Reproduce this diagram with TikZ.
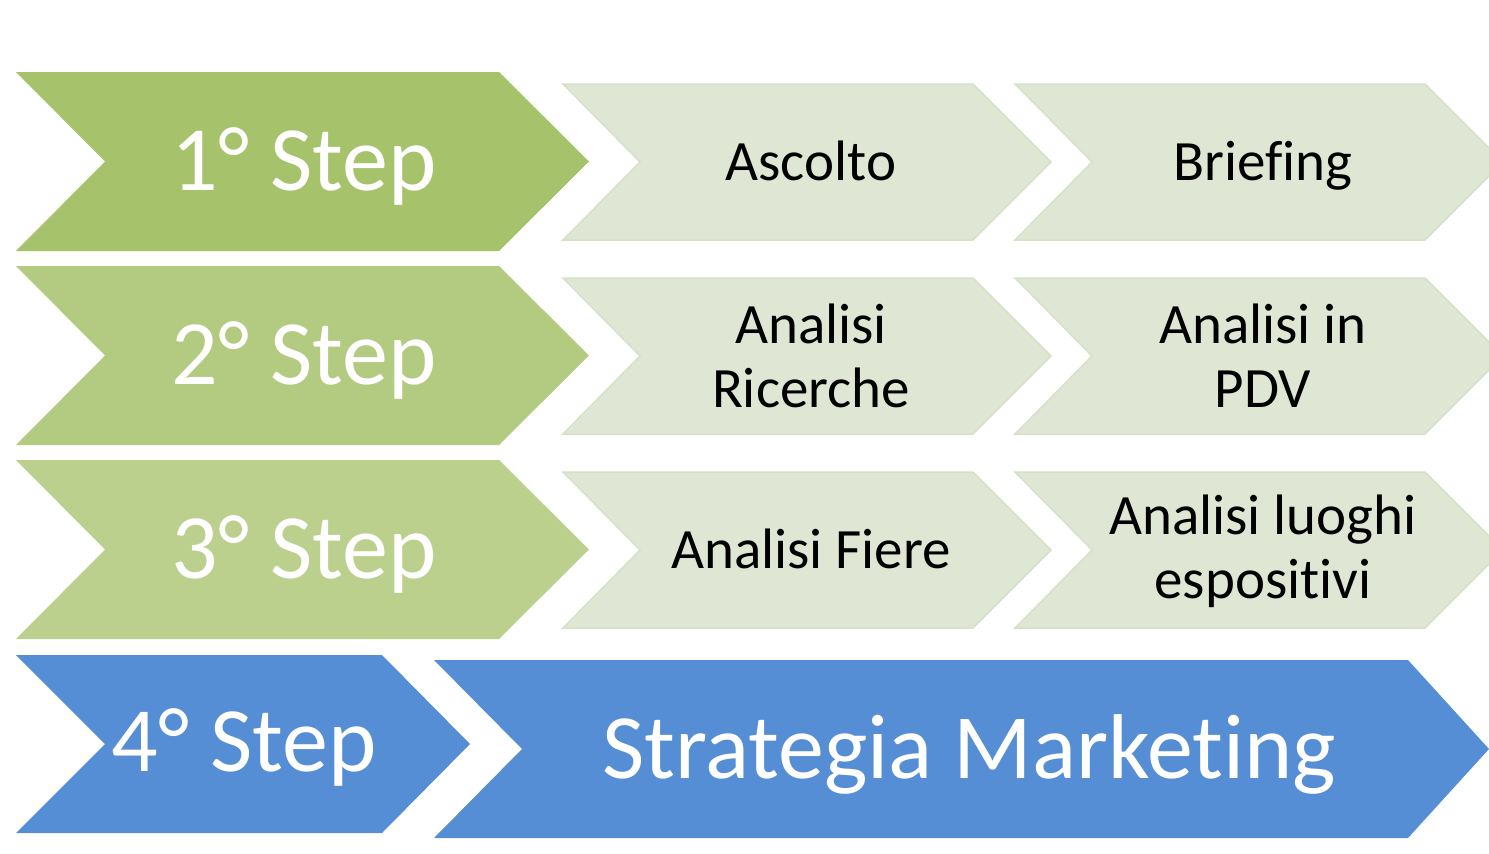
\documentclass[tikz,border=0pt]{standalone}
\usepackage{fontspec}
\setmainfont{Carlito}[Ligatures=NoCommon,RawFeature={-liga;-clig;-dlig}]
\newcommand\nolig{\kern0pt{}}
\definecolor{gA}{HTML}{A6C36C}
\definecolor{gB}{HTML}{B3CB80}
\definecolor{gC}{HTML}{BCD08E}
\definecolor{lite}{HTML}{DFE7D4}
\definecolor{liteedge}{HTML}{D6E1C8}
\definecolor{blu}{HTML}{558ED5}
% #1 left x, #2 top, #3 bottom, #4 corner x, #5 notch depth, #6 tip depth
\newcommand\chevron[6]{%
  (#1,#2) -- (#4,#2) -- ({#4+#6},{(#2+#3)/2}) -- (#4,#3) -- (#1,#3) -- ({#1+#5},{(#2+#3)/2}) -- cycle}
\tikzset{
  bigtxt/.style={text=white,font=\fontsize{92}{92}\selectfont,inner sep=0pt,anchor=base},
  smalltxt/.style={text=black,font=\fontsize{57}{64}\selectfont,inner sep=0pt,align=center,anchor=base},
  hugetxt/.style={text=white,font=\fontsize{92}{92}\selectfont,inner sep=0pt,anchor=base},
  liteshape/.style={fill=lite,draw=liteedge,line width=1.5pt},
}
\begin{document}
\begin{tikzpicture}[x=1pt,y=-1pt]
\useasboundingbox (0,0) rectangle (1489,854);
\clip (0,0) rectangle (1489,854);
% big chevrons
\fill[gA] \chevron{16}{72}{251}{499}{89}{90};
\fill[gB] \chevron{16}{266}{445}{499}{89}{90};
\fill[gC] \chevron{16}{460}{639}{499}{89}{90};
\fill[blu] \chevron{16}{655}{833}{382}{89}{88};
\fill[blu] \chevron{434}{660}{838}{1408}{88}{81};
% light chevrons
\foreach \t in {84,278,472}{
  \filldraw[liteshape] \chevron{563}{\t}{\t+156}{973}{77}{78};
  \filldraw[liteshape] \chevron{1015}{\t}{\t+156}{1425}{77}{78};
}
% texts
\node[bigtxt] (s1) at (304,190) {1° Step};
\node[bigtxt] (s2) at (304,384) {2° Step};
\node[bigtxt] (s3) at (304,578) {3° Step};
\node[bigtxt] (s4) at (244,771) {4° Step};
\node[hugetxt] (sm) at (969,778) {Strategia Market\nolig ing};
\node[smalltxt] (a1) at (811,180) {Ascolto};
\node[smalltxt] (b1) at (1263,180) {Brief\nolig ing};
\node[smalltxt] (a2) at (811,407) {Analisi\\Ricerche};
\node[smalltxt] (b2) at (1263,407) {Analisi in\\PDV};
\node[smalltxt] (a3) at (811,568) {Analisi Fiere};
\node[smalltxt] (b3) at (1263,598) {Analisi luoghi\\esposit\nolig ivi};
\end{tikzpicture}
\end{document}
